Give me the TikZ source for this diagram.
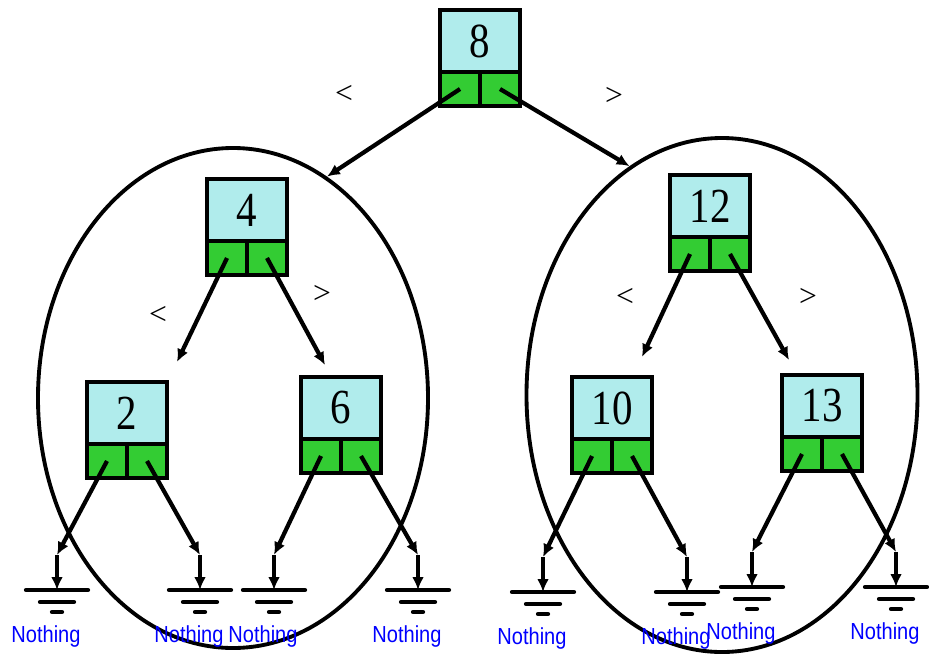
\documentclass[tikz,border=0pt]{standalone}
\usepackage{fontspec}
\setmainfont{Liberation Serif}
\newfontfamily\nothingfont{Liberation Sans}
\usetikzlibrary{shapes.geometric, arrows.meta}
\definecolor{keycyan}{RGB}{176,236,236}
\definecolor{ptrgreen}{RGB}{51,204,51}
\definecolor{nothingblue}{RGB}{0,0,255}
\tikzset{
  keybox/.style={draw, line width=3.8pt, fill=keycyan, minimum width=2.4cm, minimum height=1.86cm, inner sep=0pt, outer sep=0pt, anchor=north, font=\fontsize{38}{38}\selectfont},
  ptrbox/.style={draw, line width=3.8pt, fill=ptrgreen, minimum width=1.2cm, minimum height=1.02cm, inner sep=0pt, outer sep=0pt},
  subtree/.style={draw, ellipse, line width=3.3pt, inner sep=0pt},
  link/.style={->, line width=3.6pt},
  earth/.style={line width=3.6pt, line cap=round},
  cmp/.style={font=\fontsize{27}{27}\selectfont},
  nothing/.style={text=nothingblue, font=\nothingfont\fontsize{18}{18}\selectfont}
}
\begin{document}
\begin{tikzpicture}[x=0.03cm, y=-0.03cm, >={Latex[length=11pt,width=10pt]}]
	\useasboundingbox (0,0) rectangle (929,664);
	% the two subtrees
	\node[subtree, minimum width=11.7cm, minimum height=15cm] (lsub) at (233,398) {};
	\node[subtree, minimum width=11.73cm, minimum height=15.42cm] (rsub) at (722,395) {};
	% tree nodes: key on top, two pointers below
	\foreach \k/\x/\y in {8/480/10, 4/247/179, 2/127/382, 6/341/377, 12/710/175, 10/612/377, 13/822/375} {
		\node[keybox] (n\k) at (\x,\y) {\scalebox{0.92}[1.1]{\k}};
		\node[ptrbox, anchor=north east] (l\k) at (n\k.south) {};
		\node[ptrbox, anchor=north west] (r\k) at (n\k.south) {};
	}
	% grounds
	\foreach \i/\x/\y in {1/57/590, 2/200/590, 3/274/590, 4/418/590, 5/543/592, 6/687/592, 7/752/587, 8/896/587} {
		\coordinate (g\i) at (\x,\y);
		\coordinate (k\i) at (\x,\y-35);
		\draw[earth] (\x-31,\y) -- (\x+31,\y);
		\draw[earth] (\x-17,\y+12) -- (\x+17,\y+12);
		\draw[earth] (\x-5,\y+22) -- (\x+5,\y+22);
		\node[nothing] (t\i) at (\x-11,\y+46) {\scalebox{0.95}[1.1]{Nothing}};
	}
	\coordinate (e4l) at (177,362);
	\coordinate (e4r) at (325,365);
	\coordinate (e12l) at (642,357);
	\coordinate (e12r) at (789,360);
	\draw[link] (l8.center) -- (lsub.67);
	\draw[link] (r8.center) -- (rsub.112);
	\draw[link] (l4.center) -- (e4l);
	\draw[link] (r4.center) -- (e4r);
	\draw[link] (l12.center) -- (e12l);
	\draw[link] (r12.center) -- (e12r);
	\draw[link] (l2.center) -- (k1);
	\draw[link] (k1) -- (g1);
	\draw[link] (r2.center) -- (k2);
	\draw[link] (k2) -- (g2);
	\draw[link] (l6.center) -- (k3);
	\draw[link] (k3) -- (g3);
	\draw[link] (r6.center) -- (k4);
	\draw[link] (k4) -- (g4);
	\draw[link] (l10.center) -- (k5);
	\draw[link] (k5) -- (g5);
	\draw[link] (r10.center) -- (k6);
	\draw[link] (k6) -- (g6);
	\draw[link] (l13.center) -- (k7);
	\draw[link] (k7) -- (g7);
	\draw[link] (r13.center) -- (k8);
	\draw[link] (k8) -- (g8);
	% comparisons
	\node[cmp] (c1) at (344,94) {<};
	\node[cmp] (c2) at (614,96) {>};
	\node[cmp] (c3) at (158,315) {<};
	\node[cmp] (c4) at (322,294) {>};
	\node[cmp] (c5) at (625,297) {<};
	\node[cmp] (c6) at (808,297) {>};
\end{tikzpicture}
\end{document}
